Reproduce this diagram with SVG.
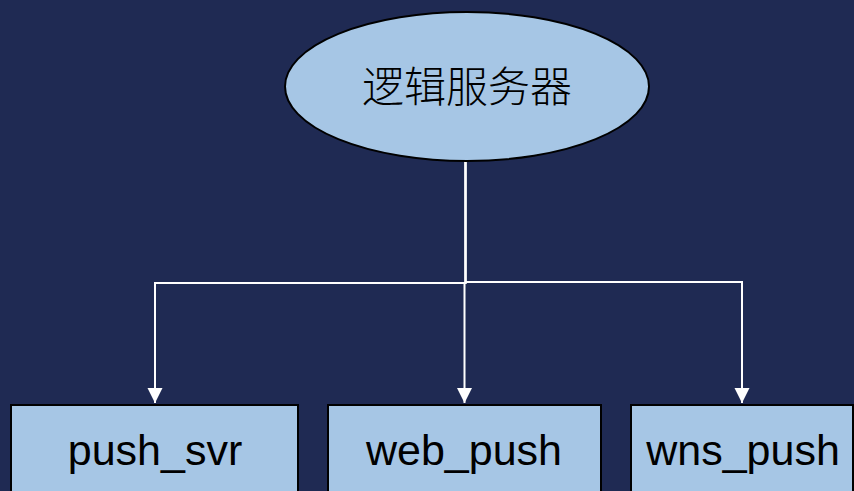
<svg xmlns="http://www.w3.org/2000/svg" width="854" height="491" viewBox="0 0 854 491">
<style>
.node{fill:#A6C6E5;stroke:#000;stroke-width:2}
.lbl{font-family:"Liberation Sans",Arial,sans-serif;font-size:43px;fill:#000;text-anchor:middle}
.cjk{font-family:"Noto Sans CJK SC",sans-serif;font-size:42px;font-weight:300;fill:#000;text-anchor:middle}
.con{fill:none;stroke:#fff;stroke-width:2}
</style>
<defs>
<marker id="arr" markerUnits="userSpaceOnUse" markerWidth="16" markerHeight="16" refX="15" refY="7.5" orient="auto">
<path d="M0,0 L15,7.5 L0,15 Z" fill="#fff"/>
</marker>
</defs>
<rect width="854" height="491" fill="#1F2A53"/>
<g id="connectors">
<polyline class="con" points="465.5,161 465.5,283 155,283 155,403" marker-end="url(#arr)"/>
<polyline class="con" points="465.5,161 465.5,283 464.5,283 464.5,403" marker-end="url(#arr)"/>
<polyline class="con" points="465.5,161 465.5,282 742,282 742,403" marker-end="url(#arr)"/>
</g>
<g id="logic-server">
<ellipse class="node" cx="467" cy="86.5" rx="182" ry="74.5"/>
<text class="cjk" x="467" y="102">逻辑服务器</text>
</g>
<g id="push_svr">
<rect class="node" x="11" y="405" width="287" height="100"/>
<text class="lbl" x="155" y="465">push_svr</text>
</g>
<g id="web_push">
<rect class="node" x="328" y="405" width="273" height="100"/>
<text class="lbl" x="464" y="465">web_push</text>
</g>
<g id="wns_push">
<rect class="node" x="631" y="405" width="222" height="100"/>
<text class="lbl" x="743" y="465">wns_push</text>
</g>
</svg>
